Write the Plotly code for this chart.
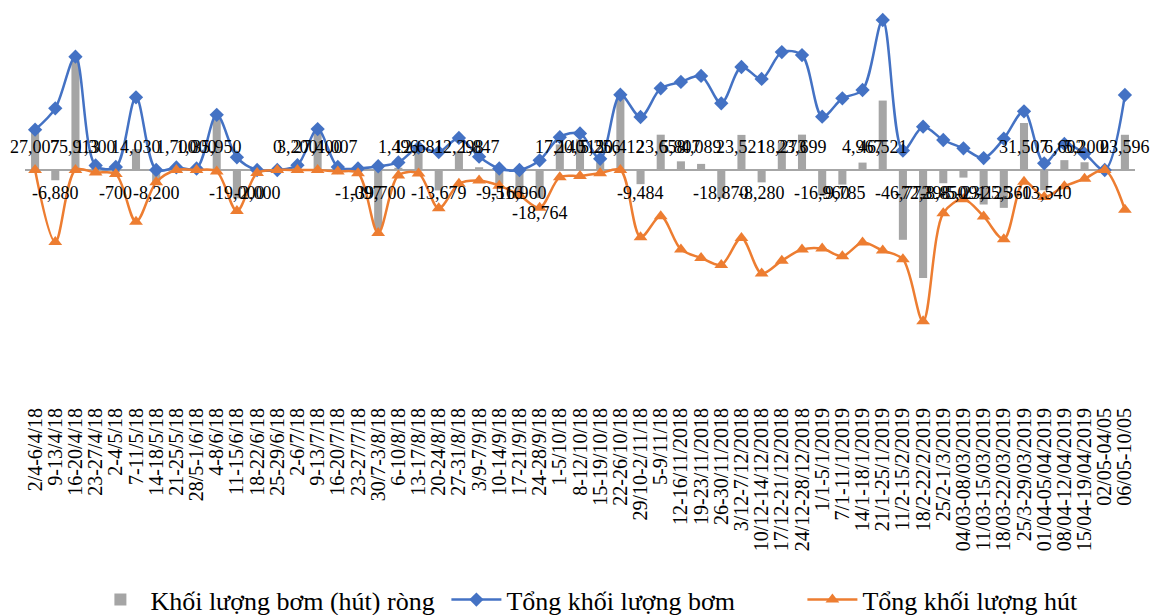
import plotly.graph_objects as go

# Weekly periods
weeks = [
    "2/4-6/4/18", "9-13/4/18", "16-20/4/18", "23-27/4/18", "2-4/5/18",
    "7-11/5/18", "14-18/5/18", "21-25/5/18", "28/5-1/6/18", "4-8/6/18",
    "11-15/6/18", "18-22/6/18", "25-29/6/18", "2-6/7/18", "9-13/7/18",
    "16-20/7/18", "23-27/7/18", "30/7-3/8/18", "6-10/8/18", "13-17/8/18",
    "20-24/8/18", "27-31/8/18", "3/9-7/9/18", "10-14/9/18", "17-21/9/18",
    "24-28/9/18", "1-5/10/18", "8-12/10/18", "15-19/10/18", "22-26/10/18",
    "29/10-2/11/18", "5-9/11/18", "12-16/11/2018", "19-23/11/2018",
    "26-30/11/2018", "3/12-7/12/2018", "10/12-14/12/2018", "17/12-21/12/2018",
    "24/12-28/12/2018", "1/1-5/1/2019", "7/1-11/1/2019", "14/1-18/1/2019",
    "21/1-25/1/2019", "11/2-15/2/2019", "18/2-22/2/2019", "25/2-1/3/2019",
    "04/03-08/03/2019", "11/03-15/03/2019", "18/03-22/03/2019",
    "25/3-29/03/2019", "01/04-05/04/2019", "08/04-12/04/2019",
    "15/04-19/04/2019", "02/05-04/05", "06/05-10/05",
]

# Net injection (withdrawal), billion VND
net_volume = [
    27007, -6880, 75913, 1300, -700, 14030, -8200, 1700, 1000, 35950,
    -19000, -2000, 0, 3200, 27400, 1007, -1097, -39700, 1496, 12681,
    -13679, 12298, 1847, -9516, -16960, -18764, 17140, 20512, 5256, 50412,
    -9484, 23658, 5807, 4089, -18870, 23521, -8280, 18273, 23699, -16960,
    -9785, 4967, 46521, -46772, -72398, -8850, -5091, -23125, -25360, 31507,
    -13540, 6602, 5200, 0, 23596,
]

# Total injected
injected = [
    27007, 41300, 75913, 3000, 2000, 48700, 0, 1700, 1000, 36950,
    8500, 0, 0, 3200, 27400, 2007, 1000, 2500, 5100, 15000,
    12000, 21500, 8900, 1000, 0, 6500, 22000, 24500, 7500, 50412,
    35500, 54700, 59000, 63000, 44700, 69000, 61000, 79000, 77000, 35700,
    48000, 53600, 100500, 13000, 29000, 20100, 14500, 8000, 21000, 39300,
    4500, 17500, 11000, 0, 50250,
]

# Total withdrawn
withdrawn = [
    0, -48180, 0, -1700, -2700, -34670, -8200, 0, 0, -1000,
    -27500, -2000, 0, 0, 0, -1000, -2097, -42200, -3604, -2319,
    -25679, -9202, -7053, -10516, -16960, -25264, -4860, -3988, -2244, 0,
    -44984, -31042, -53193, -58911, -63570, -45479, -69280, -60727, -53301, -52660,
    -57785, -48633, -53979, -59772, -101398, -28950, -19591, -31125, -46360, -7793,
    -18040, -10898, -5800, 0, -26654,
]

SERIF = "Liberation Serif"
BLUE = "#4472C4"
ORANGE = "#ED7D31"
GREY = "#A5A5A5"

fig = go.Figure()

fig.add_trace(go.Bar(
    x=weeks, y=net_volume, name="Khối lượng bơm (hút) ròng",
    marker=dict(color=GREY, line=dict(width=0)), width=0.4,
))

fig.add_trace(go.Scatter(
    x=weeks, y=injected, name="Tổng khối lượng bơm",
    mode="lines+markers",
    line=dict(color=BLUE, width=2.5, shape="spline", smoothing=0.9),
    marker=dict(symbol="diamond", size=11, color=BLUE),
))

fig.add_trace(go.Scatter(
    x=weeks, y=withdrawn, name="Tổng khối lượng hút",
    mode="lines+markers",
    line=dict(color=ORANGE, width=2.5, shape="spline", smoothing=0.9),
    marker=dict(symbol="triangle-up", size=12, color=ORANGE),
))

# Net value labels sit just above / below the zero line
label_nudge = {"24-28/9/18": -20}
for wk, v in zip(weeks, net_volume):
    shift = 23 if v >= 0 else -23
    shift += label_nudge.get(wk, 0)
    fig.add_annotation(
        x=wk, y=0, text=f"{v:,}", showarrow=False, yshift=shift,
        font=dict(family=SERIF, size=18, color="#000000"),
    )

px_per_unit = 670  # value units per pixel
fig.update_layout(
    width=1152, height=615,
    margin=dict(l=25, r=17, t=0, b=215, autoexpand=False),
    paper_bgcolor="white", plot_bgcolor="white",
    font=dict(family=SERIF, color="#000000"),
    showlegend=True,
    legend=dict(
        orientation="h", x=0.54, xanchor="center",
        yref="container", y=0.025, yanchor="middle",
        font=dict(family=SERIF, size=26, color="#000000"),
        traceorder="normal", itemwidth=50,
        entrywidth=291, entrywidthmode="pixels",
    ),
)

fig.update_xaxes(
    type="category", range=[-0.5, len(weeks) - 0.5],
    tickmode="array", tickvals=weeks, ticktext=weeks,
    tickangle=-90, showgrid=False, showline=False, automargin=False,
    ticks="", tickfont=dict(family=SERIF, size=20, color="#000000"),
    ticklabelstandoff=3,
)
fig.update_yaxes(
    range=[-230 * px_per_unit, 170 * px_per_unit],
    showticklabels=False, showgrid=False, showline=False, ticks="",
    zeroline=True, zerolinecolor="#A6A6A6", zerolinewidth=1.5,
)

fig.write_html("out.html")
